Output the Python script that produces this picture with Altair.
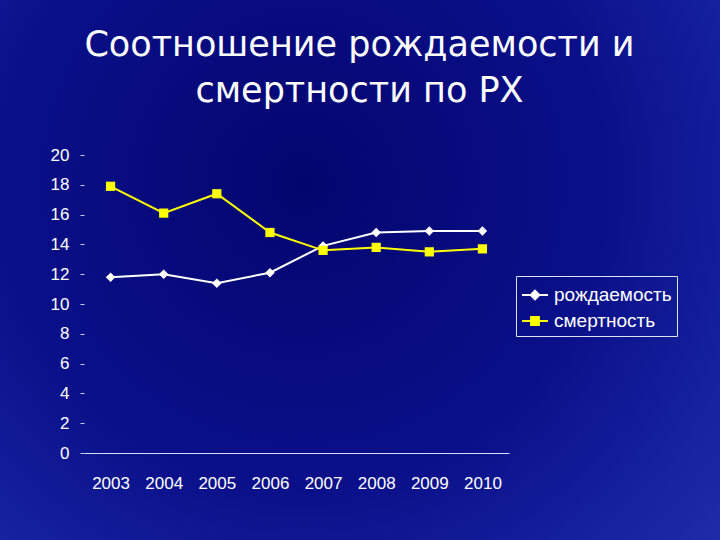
import altair as alt
import pandas as pd

years = ["2003", "2004", "2005", "2006", "2007", "2008", "2009", "2010"]
birth = [11.8, 12.0, 11.4, 12.1, 13.9, 14.8, 14.9, 14.9]
death = [17.9, 16.1, 17.4, 14.8, 13.6, 13.8, 13.5, 13.7]
series_names = ["рождаемость", "смертность"]
series_colors = ["#ffffff", "#ffff00"]
y_ticks = [0, 2, 4, 6, 8, 10, 12, 14, 16, 18, 20]
title_lines = ["Соотношение рождаемости и", "смертности по РХ"]

rows = []
for y, b, d in zip(years, birth, death):
    rows.append({"year": y, "series": series_names[0], "value": b})
    rows.append({"year": y, "series": series_names[1], "value": d})
df = pd.DataFrame(rows)

FONT = "Liberation Sans"
W, H = 425, 298

x_enc = alt.X("year:N", sort=years,
              scale=alt.Scale(type="point", padding=0.5),
              axis=alt.Axis(title=None, labelAngle=0, labelFontSize=17, labelColor="white",
                            labelFont=FONT, ticks=False, domainColor="#d8dcf0",
                            domainWidth=1, labelPadding=22, grid=False, zindex=2))
y_enc = alt.Y("value:Q", scale=alt.Scale(domain=[0, 20], nice=False),
              axis=alt.Axis(title=None, values=y_ticks, labelFontSize=17, labelColor="white",
                            labelFont=FONT, domain=False, tickColor="#c8cce8", tickSize=4,
                            labelOverlap=False, labelPadding=11, grid=False, zindex=2))

bg = alt.Chart(pd.DataFrame({"a": [0]})).mark_rect(
    color={"gradient": "radial", "x1": 0.42, "y1": 0.38, "r1": 0.0,
           "x2": 0.42, "y2": 0.38, "r2": 0.85,
           "stops": [{"offset": 0, "color": "#03056e"},
                     {"offset": 0.5, "color": "#0a108a"},
                     {"offset": 1, "color": "#2233b2"}]}
).encode(x=alt.value(-84), x2=alt.value(636), y=alt.value(-155), y2=alt.value(385))

base = alt.Chart(df)
b_data = base.transform_filter(alt.datum.series == series_names[0])
d_data = base.transform_filter(alt.datum.series == series_names[1])

line_b = b_data.mark_line(strokeWidth=2, color=series_colors[0]).encode(x=x_enc, y=y_enc)
line_d = d_data.mark_line(strokeWidth=2, color=series_colors[1]).encode(x=x_enc, y=y_enc)

diamonds = b_data.mark_point(shape="diamond", filled=True, size=90, opacity=1,
                             color=series_colors[0]).encode(x=x_enc, y=y_enc)
squares = d_data.mark_point(shape="square", filled=True, size=85, opacity=1,
                            color=series_colors[1]).encode(x=x_enc, y=y_enc)

leg = alt.Legend(title=None, orient="none", legendX=432, legendY=121,
                 strokeColor="#e0e0f0", padding=5, labelFontSize=19, labelColor="white",
                 labelFont=FONT, symbolSize=676, symbolStrokeWidth=2, rowPadding=2,
                 symbolOpacity=1, labelOffset=5, zindex=2)
shape_paths = ["M-1,0H1M0,-0.33L0.33,0L0,0.33L-0.33,0Z",
               "M-1,0H1M-0.3,-0.3H0.3V0.3H-0.3Z"]

legend_layer = base.mark_point(filled=True, opacity=0).encode(
    x=x_enc, y=y_enc,
    color=alt.Color("series:N", scale=alt.Scale(domain=series_names, range=series_colors), legend=leg),
    stroke=alt.Stroke("series:N", scale=alt.Scale(domain=series_names, range=series_colors), legend=leg),
    shape=alt.Shape("series:N", scale=alt.Scale(domain=series_names, range=shape_paths), legend=leg),
)

chart = alt.layer(bg, line_b, line_d, diamonds, squares, legend_layer).properties(
    width=W, height=H,
    title=alt.TitleParams(text=title_lines, fontSize=35, font="DejaVu Sans", color="white",
                          fontWeight="normal", anchor="middle", dx=63, dy=119, lineHeight=46,
                          offset=10),
    autosize=alt.AutoSizeParams(type="none"),
    padding={"left": 84, "top": 155, "right": 211, "bottom": 87},
).configure(background="#0a0e88").configure_view(stroke=None)

chart.save("out.html", embed_options={"renderer": "svg", "actions": False})
